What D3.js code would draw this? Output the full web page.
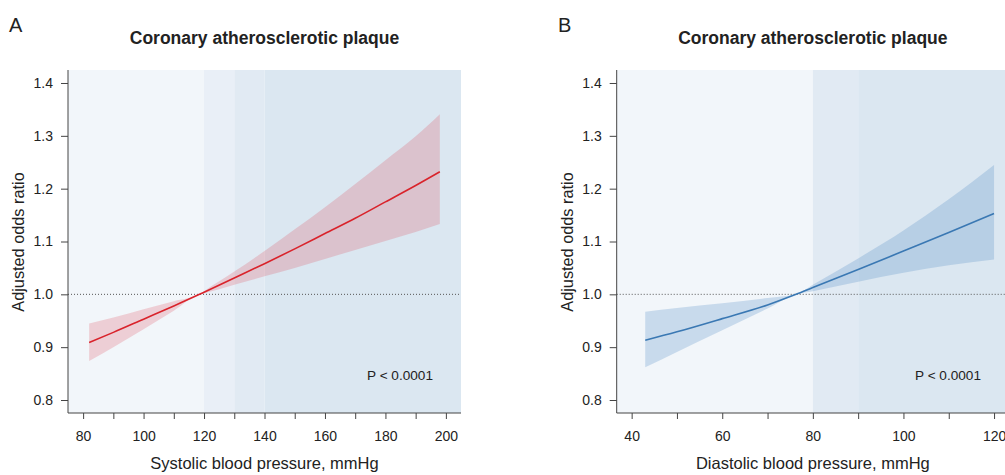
<!DOCTYPE html>
<html lang="en">
<head>
    <meta charset="UTF-8">
    <title>Coronary atherosclerotic plaque</title>
    <script src="https://cdnjs.cloudflare.com/ajax/libs/d3/7.8.5/d3.min.js"></script>
    <style>
        body {
            margin: 0;
            background-color: white;
            font-family: Arial, "Liberation Sans", sans-serif;
        }
        svg text {
            fill: #222;
        }
    </style>
</head>
<body>
<div id="chart"></div>
<script>
    // Panel A - systolic blood pressure
    const sbpX = [82, 90, 100, 110, 118.5, 120, 130, 140, 150, 160, 170, 180, 190, 198];
    const sbpOR = [0.909, 0.928, 0.953, 0.978, 1.000, 1.004, 1.031, 1.058, 1.086, 1.115, 1.144, 1.175, 1.206, 1.232];
    const sbpLower = [0.874, 0.900, 0.934, 0.969, 1.000, 1.002, 1.018, 1.034, 1.050, 1.067, 1.084, 1.101, 1.118, 1.133];
    const sbpUpper = [0.945, 0.956, 0.972, 0.987, 1.000, 1.006, 1.043, 1.082, 1.123, 1.165, 1.209, 1.254, 1.299, 1.341];
    const sbpBands = [120, 130, 140];
    const sbpTicks = [80, 100, 120, 140, 160, 180, 200];

    // Panel B - diastolic blood pressure
    const dbpX = [43, 50, 60, 70, 76.3, 80, 90, 100, 110, 120];
    const dbpOR = [0.913, 0.929, 0.954, 0.980, 1.000, 1.013, 1.047, 1.082, 1.117, 1.153];
    const dbpLower = [0.862, 0.891, 0.932, 0.973, 1.000, 1.006, 1.024, 1.041, 1.055, 1.066];
    const dbpUpper = [0.967, 0.974, 0.983, 0.993, 1.000, 1.018, 1.068, 1.121, 1.180, 1.245];
    const dbpBands = [80, 90];
    const dbpTicks = [40, 60, 80, 100, 120];

    const yTicks = [0.8, 0.9, 1.0, 1.1, 1.2, 1.3, 1.4];

    const width = 1005;
    const height = 475;
    const plotTop = 70;
    const plotBottom = 413;

    const svg = d3.select('#chart')
        .append('svg')
        .attr('width', width)
        .attr('height', height);

    function drawPanel(p) {
        const x = d3.scaleLinear().domain(p.xDomain).range([p.left, p.right]);
        const y = d3.scaleLinear().domain([0.7754, 1.4246]).range([plotBottom, plotTop]);
        const g = svg.append('g');

        // shaded background regions
        const edges = [p.xDomain[0]].concat(p.bands).concat([p.xDomain[1]]);
        g.selectAll('rect.band')
            .data(edges.slice(0, -1))
            .enter()
            .append('rect')
            .attr('class', 'band')
            .attr('x', d => x(d))
            .attr('y', plotTop)
            .attr('width', (d, i) => x(edges[i + 1]) - x(d))
            .attr('height', plotBottom - plotTop)
            .attr('fill', (d, i) => p.bandColors[i]);

        const pts = p.xs.map((v, i) => ({x: v, or: p.or[i], lo: p.lo[i], hi: p.hi[i]}));

        g.append('path')
            .datum(pts)
            .attr('fill', p.fill)
            .attr('fill-opacity', p.fillOpacity)
            .attr('d', d3.area().curve(d3.curveMonotoneX)
                .x(d => x(d.x)).y0(d => y(d.lo)).y1(d => y(d.hi)));

        // reference line at 1.0
        g.append('line')
            .attr('x1', p.left).attr('x2', p.right)
            .attr('y1', y(1)).attr('y2', y(1))
            .attr('stroke', '#555')
            .attr('stroke-width', 1)
            .attr('stroke-dasharray', '1,2');

        g.append('path')
            .datum(pts)
            .attr('fill', 'none')
            .attr('stroke', p.line)
            .attr('stroke-width', 1.6)
            .attr('d', d3.line().curve(d3.curveMonotoneX).x(d => x(d.x)).y(d => y(d.or)));

        // axes
        const yAxis = g.append('g')
            .attr('transform', `translate(${p.left}, 0)`)
            .call(d3.axisLeft(y).tickValues(yTicks).tickFormat(d3.format('.1f')).tickSize(7).tickPadding(8));
        yAxis.select('.domain').attr('d', `M0,${plotTop}V${plotBottom}`);

        const xMinor = d3.range(p.ticks[0], p.ticks[p.ticks.length - 1] + 1, 10);
        const xAxis = g.append('g')
            .attr('transform', `translate(0, ${plotBottom})`)
            .call(d3.axisBottom(x).tickValues(xMinor)
                .tickFormat(d => p.ticks.includes(d) ? d : '')
                .tickSize(6).tickPadding(12));
        xAxis.select('.domain').attr('d', `M${p.left},0H${p.right}`);

        [yAxis, xAxis].forEach(a => {
            a.selectAll('.domain').attr('stroke', '#444');
            a.selectAll('.tick line').attr('stroke', '#444');
            a.selectAll('.tick text').style('font-size', '14px')
                .style('font-family', 'Arial, "Liberation Sans", sans-serif').attr('fill', '#222');
        });

        const cx = (p.left + p.right) / 2;
        g.append('text')
            .attr('x', cx).attr('y', 44)
            .attr('text-anchor', 'middle')
            .style('font-size', '17.5px')
            .style('font-weight', 'bold')
            .text('Coronary atherosclerotic plaque');

        g.append('text')
            .attr('x', p.letterX).attr('y', 32)
            .style('font-size', '20px')
            .text(p.letter);

        g.append('text')
            .attr('transform', `translate(${p.left - 44}, 242) rotate(-90)`)
            .attr('text-anchor', 'middle')
            .style('font-size', '16.3px')
            .text('Adjusted odds ratio');

        g.append('text')
            .attr('x', cx).attr('y', 469)
            .attr('text-anchor', 'middle')
            .style('font-size', '16.5px')
            .text(p.xTitle);

        g.append('text')
            .attr('x', p.pX).attr('y', 380)
            .attr('text-anchor', 'middle')
            .style('font-size', '13.6px')
            .text('P < 0.0001');
    }

    drawPanel({
        letter: 'A', letterX: 9,
        left: 68, right: 461, xDomain: [75, 205],
        bands: sbpBands, bandColors: ['#f2f6fa', '#e9eff7', '#e1eaf3', '#dbe7f1'],
        xs: sbpX, or: sbpOR, lo: sbpLower, hi: sbpUpper, ticks: sbpTicks,
        line: '#d9232b', fill: '#dc3040', fillOpacity: 0.2,
        xTitle: 'Systolic blood pressure, mmHg', pX: 400
    });

    drawPanel({
        letter: 'B', letterX: 558,
        left: 616.7, right: 1009, xDomain: [36.7, 123.3],
        bands: dbpBands, bandColors: ['#f2f6fa', '#e1eaf3', '#dbe7f1'],
        xs: dbpX, or: dbpOR, lo: dbpLower, hi: dbpUpper, ticks: dbpTicks,
        line: '#3a78b3', fill: '#4a88c4', fillOpacity: 0.25,
        xTitle: 'Diastolic blood pressure, mmHg', pX: 948
    });
</script>
</body>
</html>
